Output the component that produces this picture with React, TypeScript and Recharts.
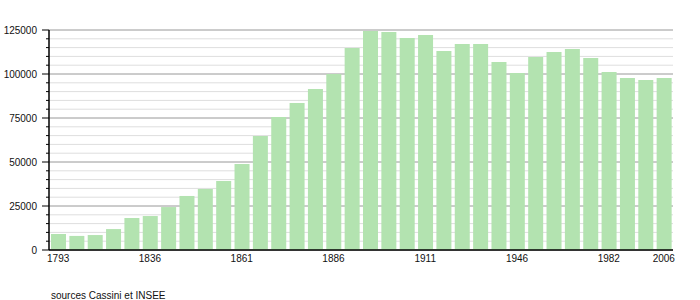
import React from 'react';
import { BarChart, Bar, XAxis, YAxis, CartesianGrid } from 'recharts';

const years = ['1793','1800','1806','1821','1831','1836','1841','1846','1851','1856','1861','1866','1872','1876','1881','1886','1891','1896','1901','1906','1911','1921','1926','1931','1936','1946','1954','1962','1968','1975','1982','1990','1999','2006'];
const population = [9100,8000,8500,11900,18200,19300,24400,30700,34700,39200,48900,64800,75600,83500,91500,100000,114800,124400,123900,120500,122200,113000,117000,117000,106800,100600,109700,112500,114200,109100,101100,97700,96600,97700];
const xLabels = ['1793','1836','1861','1886','1911','1946','1982','2006'];
const yMajorTicks = [0,25000,50000,75000,100000,125000];
const yAllTicks = [0,5000,10000,15000,20000,25000,30000,35000,40000,45000,50000,55000,60000,65000,70000,75000,80000,85000,90000,95000,100000,105000,110000,115000,120000,125000];
const sourceText = 'sources Cassini et INSEE';

const data = years.map((y, i) => ({ year: y, pop: population[i] }));

const FONT = '"Liberation Sans", Arial, sans-serif';

const YTick = (props: any) => {
  const { x, y, payload } = props;
  const major = yMajorTicks.includes(payload.value);
  return (
    <g>
      <line x1={x - (major ? 7 : 3)} x2={x} y1={y} y2={y} stroke="#000" strokeWidth={1} />
      {major && (
        <text x={x - 12} y={y} dy="0.355em" textAnchor="end" fontSize={10} fontFamily={FONT} fill="#111">
          {payload.value}
        </text>
      )}
    </g>
  );
};

export default function App() {
  return (
    <div style={{ position: 'absolute', left: 0, top: 0, width: 700, height: 300, background: '#fff' }}>
      <BarChart width={700} height={300} data={data} margin={{ top: 30, right: 27, bottom: 30, left: 0 }}>
        <CartesianGrid vertical={false} horizontalValues={yAllTicks} stroke="#dedede" strokeWidth={1} />
        <CartesianGrid vertical={false} horizontalValues={yMajorTicks} stroke="#a8a8a8" strokeWidth={1} />
        <XAxis
          dataKey="year"
          interval={0}
          tickLine={false}
          tickSize={0}
          tickMargin={5}
          height={20}
          axisLine={{ stroke: '#000', strokeWidth: 1.5 }}
          tickFormatter={(v: string) => (xLabels.includes(v) ? v : '')}
          tick={{ fontSize: 10, fontFamily: FONT, fill: '#111' }}
        />
        <YAxis
          domain={[0, 125000]}
          ticks={yAllTicks}
          interval={0}
          width={49}
          tickLine={false}
          tickSize={0}
          tickMargin={0}
          axisLine={{ stroke: '#000', strokeWidth: 1.5 }}
          tick={<YTick />}
        />
        <Bar dataKey="pop" fill="#b3e3b0" barSize={15} isAnimationActive={false} />
      </BarChart>
      <div style={{ position: 'absolute', left: 51, top: 291, fontSize: 10, lineHeight: '10px', fontFamily: FONT, color: '#111', whiteSpace: 'nowrap' }}>
        {sourceText}
      </div>
    </div>
  );
}
